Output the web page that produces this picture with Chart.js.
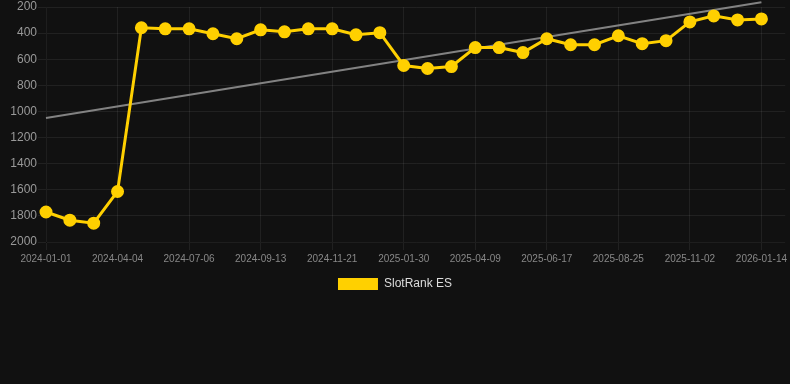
<!DOCTYPE html>
<html>
<head>
<meta charset="utf-8">
<script src="https://cdn.jsdelivr.net/npm/chart.js@4"></script>
<style>
  html, body { margin: 0; padding: 0; background: #111111; }
  #wrap { width: 790px; height: 300px; }
</style>
</head>
<body>
<div id="wrap"><canvas id="chart"></canvas></div>
<script>
// dates on the x axis (the last one has no value yet)
const dates = [
  '2024-01-01', '2024-02-01', '2024-03-03', '2024-04-04', '2024-05-04', '2024-06-05',
  '2024-07-06', '2024-07-29', '2024-08-21', '2024-09-13', '2024-10-06', '2024-10-29',
  '2024-11-21', '2024-12-14', '2025-01-07', '2025-01-30', '2025-02-22', '2025-03-17',
  '2025-04-09', '2025-05-02', '2025-05-25', '2025-06-17', '2025-07-10', '2025-08-02',
  '2025-08-25', '2025-09-17', '2025-10-10', '2025-11-02', '2025-11-26', '2025-12-20',
  '2026-01-14', '2026-02-06'
];

// rank values (lower is better, axis is reversed)
const ranks = [
  1770, 1833, 1856, 1613, 359, 367,
  367, 405, 443, 375, 390, 367,
  367, 413, 397, 648, 671, 656,
  511, 511, 549, 443, 489, 489,
  420, 481, 458, 314, 268, 299,
  291
];

const yTicks = { min: 200, max: 2000, step: 200 };

// least squares trend over the ranks, drawn from first to last value
function trendLine(values) {
  const n = values.length;
  let sx = 0, sy = 0, sxy = 0, sxx = 0;
  values.forEach((v, i) => { sx += i; sy += v; sxy += i * v; sxx += i * i; });
  const slope = (n * sxy - sx * sy) / (n * sxx - sx * sx);
  const icpt = (sy - slope * sx) / n;
  return [
    { x: dates[0], y: icpt },
    { x: dates[n - 1], y: icpt + slope * (n - 1) }
  ];
}

const yellow = 'rgb(255, 208, 0)';
const ctx = document.getElementById('chart').getContext('2d');

new Chart(ctx, {
  type: 'line',
  data: {
    labels: dates,
    datasets: [
      {
        label: 'SlotRank ES',
        data: ranks,
        borderColor: yellow,
        backgroundColor: yellow,
        borderWidth: 3,
        pointRadius: 5,
        pointBackgroundColor: yellow,
        pointBorderColor: yellow,
        tension: 0,
      },
      {
        label: 'trend',
        data: trendLine(ranks),
        borderColor: 'rgba(150, 150, 150, 0.85)',
        borderWidth: 2,
        pointRadius: 0,
        clip: false,
      },
    ],
  },
  options: {
    responsive: true,
    maintainAspectRatio: false,
    animation: false,
    layout: { autoPadding: false },
    plugins: {
      legend: {
        position: 'bottom',
        labels: {
          color: '#dddddd',
          font: { size: 12 },
          boxWidth: 40,
          boxHeight: 12,
          filter: (item) => item.text !== 'trend',
          generateLabels: (chart) =>
            Chart.defaults.plugins.legend.labels.generateLabels(chart)
              .map((item) => ({ ...item, lineWidth: 0 })),
        },
      },
      tooltip: { enabled: false },
    },
    scales: {
      x: {
        grid: { color: 'rgba(255, 255, 255, 0.07)' },
        ticks: { color: '#888888', font: { size: 10 }, maxRotation: 0 },
      },
      y: {
        reverse: true,
        min: yTicks.min,
        max: yTicks.max,
        grid: { color: 'rgba(255, 255, 255, 0.07)' },
        ticks: {
          color: '#999999',
          font: { size: 12 },
          stepSize: yTicks.step,
          padding: 1,
          callback: (v) => String(v),
        },
        afterFit: (s) => { s.width = 46; s.paddingTop = 7; },
      },
    },
  },
});
</script>
</body>
</html>
